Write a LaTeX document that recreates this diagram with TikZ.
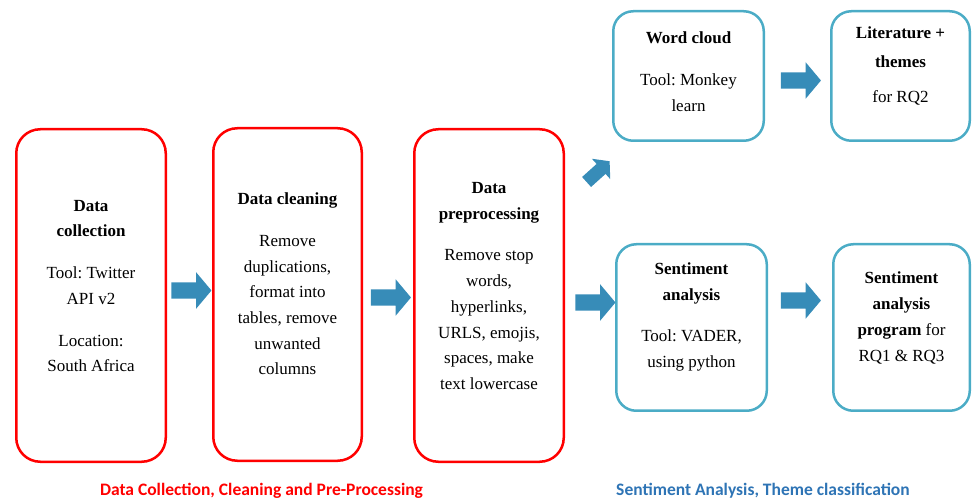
\documentclass[tikz,border=0pt]{standalone}
\usepackage{fontspec}
\setmainfont{Liberation Serif}
\newfontfamily\capfont{Carlito}
\usetikzlibrary{shapes.arrows}
\definecolor{boxred}{HTML}{FF0000}
\definecolor{boxteal}{HTML}{4BACC6}
\definecolor{arrowblue}{HTML}{378CB8}
\definecolor{capblue}{HTML}{2E74B5}
\frenchspacing
\begin{document}
\begin{tikzpicture}[x=1pt,y=-1pt,
  redbox/.style={draw=boxred,line width=2.5pt,rounded corners=24pt,
    minimum width=149.5pt,minimum height=332.5pt,inner sep=0pt},
  tealbox/.style={draw=boxteal,line width=2.5pt,rounded corners=20pt,inner sep=0pt},
  boxtext/.style={align=center,inner sep=0pt,font=\fontsize{17}{25.7}\selectfont},
  blockarrow/.style={single arrow,fill=arrowblue,draw=none,inner xsep=0pt,
    inner ysep=8pt,minimum height=40pt,single arrow head extend=10pt,
    single arrow tip angle=100},
  smallarrow/.style={blockarrow,inner ysep=6.5pt,minimum height=31pt,
    single arrow head extend=7pt},
  caption/.style={font=\capfont\bfseries\fontsize{17.5}{20}\selectfont,inner sep=0pt}]
\useasboundingbox (0,0) rectangle (972,502);

% stage 1: data collection, cleaning, pre-processing
\node[redbox] (collect) at (91,295.5) {};
\node[redbox,minimum width=148.5pt] (clean) at (287.5,294.5) {};
\node[redbox] (prep) at (489,295.5) {};

\node[boxtext] (collectTxt) at (91,286) {\textbf{Data}\\\textbf{collection}\\[16pt]
  Tool: Twitter\\API v2\\[16pt]Location:\\South Africa};
\node[boxtext] (cleanTxt) at (287.5,284) {\textbf{Data cleaning}\\[16pt]
  Remove\\duplications,\\format into\\tables, remove\\unwanted\\columns};
\node[boxtext] (prepTxt) at (489,286) {\textbf{Data}\\\textbf{preprocessing}\\[16pt]
  Remove stop\\words,\\hyperlinks,\\URLS, emojis,\\spaces, make\\text lowercase};

% stage 2: sentiment analysis and themes
\node[tealbox,minimum width=150.5pt,minimum height=129.5pt] (cloud) at (688.5,76) {};
\node[tealbox,minimum width=138.5pt,minimum height=129.5pt] (lit) at (900.5,76) {};
\node[tealbox,minimum width=150.5pt,minimum height=166.5pt] (senti) at (691.5,327.5) {};
\node[tealbox,minimum width=136.5pt,minimum height=166.5pt] (prog) at (901.5,327.5) {};

\node[boxtext] (cloudTxt) at (688.5,71.5) {\textbf{Word cloud}\\[16pt]Tool: Monkey\\learn};
\node[boxtext] (litTxt) at (900.5,66) {\textbf{Literature +}\\[3pt]\textbf{themes}\\[10pt]for RQ2};
\node[boxtext] (sentiTxt) at (691.5,317) {\textbf{Sentiment}\\\textbf{analysis}\\[16pt]
  Tool: VADER,\\using python};
\node[boxtext] (progTxt) at (901.5,318) {\textbf{Sentiment}\\\textbf{analysis}\\
  \textbf{program} for\\RQ1 \& RQ3};

% block arrows between the stages
\node[blockarrow] (a1) at (188,290.5) {};
\node[blockarrow] (a2) at (387.5,297.5) {};
\node[blockarrow] (a3) at (592,302.5) {};
\node[smallarrow,rotate=42] (a4) at (596,173.5) {};
\node[blockarrow] (a5) at (797.5,80.5) {};
\node[blockarrow] (a6) at (797.5,300.5) {};

% phase captions
\node[caption,text=boxred] (capA) at (261.5,491) {Data Collection, Cleaning and Pre-Processing};
\node[caption,text=capblue] (capB) at (763,491) {Sentiment Analysis, Theme classification};
\end{tikzpicture}
\end{document}
